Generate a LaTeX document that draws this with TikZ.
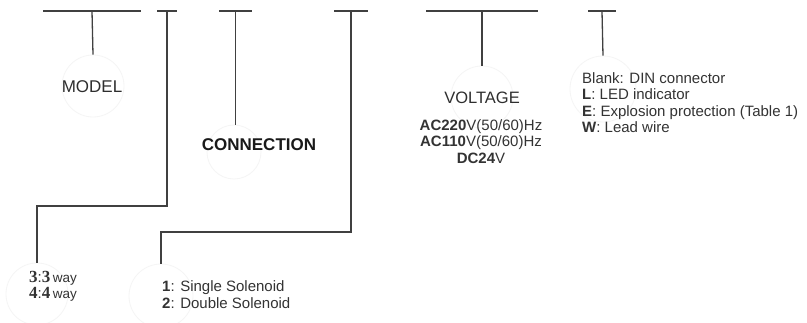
\documentclass[tikz,border=0pt]{standalone}
\usepackage{fontspec}
\setmainfont{Liberation Sans}
\newfontfamily\digitfont{Liberation Serif}
\usepackage{tikz}
\usetikzlibrary{positioning}

\tikzset{
  bar/.style={draw=black!75, line width=1.3pt},
  stem/.style={draw=black!75, line width=1.3pt},
  ring/.style={circle, draw=black!4, line width=0.8pt, inner sep=0pt},
  title/.style={inner sep=0pt, text=black!82, font=\fontsize{17}{20}\selectfont},
  codelist/.style={inner sep=0pt, text=black!80, font=\fontsize{15}{16.3}\selectfont}
}
\newcommand{\wayno}[1]{{\digitfont\bfseries\fontsize{17}{16}\selectfont #1}}

\begin{document}
\begin{tikzpicture}[x=1pt,y=-1pt]
        \path[use as bounding box, fill=white] (0,0) rectangle (807,323);
        % segment bars along the top, one per code field
        \foreach \name/\xa/\xb in {model/43/141,ports/157/177,conn/219/252,sol/334/368,volt/426/538,opt/588/616}{
            \coordinate (\name-l) at (\xa,11);
            \coordinate (\name-r) at (\xb,11);
            \coordinate (\name) at ({(\xa+\xb)/2},11);
            \draw[bar] (\name-l) -- (\name-r);
        }
        % faint rings under each field
        \node[ring, minimum size=62] (modelring) at (93,86) {};
        \node[ring, minimum size=54] (connring) at (234,152) {};
        \node[ring, minimum size=62] (voltring) at (482,97) {};
        \node[ring, minimum size=66] (optring) at (603,89) {};
        \node[ring, minimum size=62] (portsring) at (37,294) {};
        \node[ring, minimum size=64] (solring) at (161,296) {};
        % bends of the two long leads
        \coordinate (portsbend) at (167,206);
        \coordinate (solbend) at (351,232);
        % stems
        \draw[stem] (model) -- (modelring.north);
        \draw[stem] (conn) -- (conn |- connring.north);
        \draw[stem] (volt) -- (voltring.north);
        \draw[stem] (opt) -- (optring.north);
        \draw[stem] (ports) -- (portsbend) -| (portsring.north);
        \draw[stem] (sol) -- (solbend) -| (solring.north);
        % labels
        \node[title] (modeltxt) at (92,87) {MODEL};
        \node[title, font=\fontsize{17}{20}\selectfont\bfseries, text=black!90] (conntxt) at (259,145) {CONNECTION};
        \node[title, font=\fontsize{16.5}{20}\selectfont] (volttxt) at (482,98) {VOLTAGE};
        \node[codelist, align=center, anchor=north] (voltlist) at (481,119.5)
            {\textbf{AC220}V(50/60)Hz\\ \textbf{AC110}V(50/60)Hz\\ \textbf{DC24}V};
        \node[codelist, align=left, anchor=north west] (optlist) at (582,72.5)
            {Blank: DIN connector\\ \textbf{L}: LED indicator\\ \textbf{E}: Explosion protection (Table 1)\\ \textbf{W}: Lead wire};
        \node[codelist, align=left, anchor=north west, font=\fontsize{15}{16}\selectfont] (portslist) at (29,271.5)
            {\wayno{3}:\wayno{3}\,{\fontsize{13.5}{16}\selectfont way}\\ \wayno{4}:\wayno{4}\,{\fontsize{13.5}{16}\selectfont way}};
        \node[codelist, align=left, anchor=north west, font=\fontsize{15}{17}\selectfont] (sollist) at (162,280.5)
            {\textbf{1}: Single Solenoid\\ \textbf{2}: Double Solenoid};
    \end{tikzpicture}
\end{document}
